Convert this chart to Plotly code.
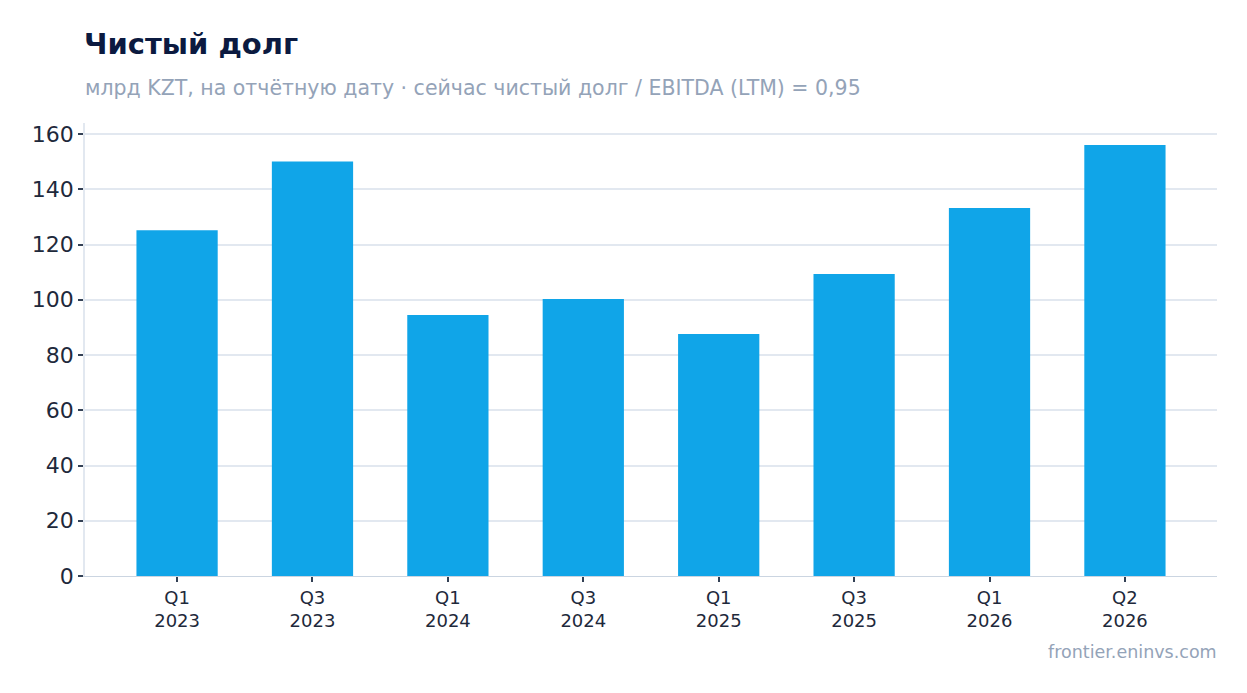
import plotly.graph_objects as go

quarters = ["Q1<br>2023", "Q3<br>2023", "Q1<br>2024", "Q3<br>2024",
            "Q1<br>2025", "Q3<br>2025", "Q1<br>2026", "Q2<br>2026"]
net_debt = [125.2, 150.1, 94.5, 100.3, 87.6, 109.3, 133.2, 156.0]

FONT = "DejaVu Sans"

fig = go.Figure()
fig.add_trace(go.Bar(
    x=quarters,
    y=net_debt,
    marker=dict(color="#10a5e8", line=dict(width=0)),
    hoverinfo="y",
))

fig.update_layout(
    width=1247, height=693,
    margin=dict(l=77, r=38, t=115, b=125),
    paper_bgcolor="white",
    plot_bgcolor="white",
    bargap=0.4,
    showlegend=False,
    font=dict(family=FONT, color="#1e293b"),
)
fig.update_xaxes(
    range=[-0.68, 7.68],
    showgrid=False,
    showline=True, linecolor="#cbd5e1", linewidth=1,
    ticks="outside", ticklen=5, tickwidth=1.5, tickcolor="#334155",
    tickfont=dict(size=18, color="#1e293b"),
)
fig.update_yaxes(
    range=[0, 164],
    dtick=20,
    showgrid=True, gridcolor="#e2e8f0", gridwidth=1.5,
    zeroline=False,
    showline=True, linecolor="#e2e8f0", linewidth=1.5,
    ticks="outside", ticklen=5, tickwidth=1.5, tickcolor="#334155",
    tickfont=dict(size=22, color="#1e293b"),
)

fig.add_annotation(
    text="<b>Чистый долг</b>", xref="paper", yref="paper",
    x=0, y=1, xshift=-3, yshift=79, xanchor="left", yanchor="middle",
    showarrow=False, font=dict(family=FONT, size=29, color="#0b1a40"),
)
fig.add_annotation(
    text="млрд KZT, на отчётную дату · сейчас чистый долг / EBITDA (LTM) = 0,95",
    xref="paper", yref="paper",
    x=0, y=1, xshift=-2, yshift=35, xanchor="left", yanchor="middle",
    showarrow=False, font=dict(family=FONT, size=20.5, color="#94a3b8"),
)
fig.add_annotation(
    text="frontier.eninvs.com", xref="paper", yref="paper",
    x=1, y=0, xshift=2, yshift=-76, xanchor="right", yanchor="middle",
    showarrow=False, font=dict(family=FONT, size=17.5, color="#94a3b8"),
)

fig.write_html("out.html")
